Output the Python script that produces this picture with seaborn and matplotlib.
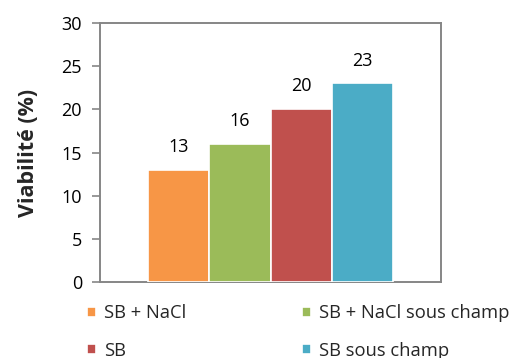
import matplotlib
matplotlib.use("Agg")
import matplotlib.pyplot as plt
import seaborn as sns
import pandas as pd

# Viability per treatment
groupe = ["Traitement"] * 4
conditions = ["SB + NaCl", "SB + NaCl sous champ", "SB", "SB sous champ"]
viabilite = [13, 16, 20, 23]
couleurs = ["#F79646", "#9BBB59", "#C0504D", "#4BACC6"]
yticks = [0, 5, 10, 15, 20, 25, 30]

df = pd.DataFrame({"groupe": groupe, "condition": conditions, "viabilite": viabilite})

sns.set_theme(style="white")
plt.rcParams["font.family"] = ["Open Sans", "DejaVu Sans"]

W, H = 522, 358
fig = plt.figure(figsize=(W / 100, H / 100), dpi=100)
ax = fig.add_axes([100 / W, (H - 282) / H, 341 / W, 259 / H])

sns.barplot(data=df, x="groupe", y="viabilite", hue="condition",
            hue_order=conditions, palette=couleurs, width=0.72,
            saturation=1, edgecolor="white", linewidth=1.2,
            ax=ax, legend=True, zorder=3)

for cont in ax.containers:
    ax.bar_label(cont, fmt="%d", padding=10, fontsize=13, color="black")

ax.set_ylim(0, 30)
ax.set_xlim(-0.5, 0.5)
ax.set_yticks(yticks)
ax.set_xticks([])
ax.set_xlabel("")
ax.set_ylabel("Viabilité (%)", fontsize=15.5, fontweight="bold", labelpad=16)
ax.tick_params(axis="y", left=True, length=6, width=1.2, color="#868686",
               labelsize=13, labelcolor="black", pad=7)
for s in ax.spines.values():
    s.set_color("#868686")
    s.set_linewidth(1.4)
    s.set_zorder(2)

handles, labels = ax.get_legend_handles_labels()
ax.get_legend().remove()
order = [0, 2, 1, 3]
fig.legend([handles[i] for i in order], [labels[i] for i in order],
           ncol=2, loc="upper left", bbox_to_anchor=(81 / W, 1 - 299 / H),
           frameon=False, fontsize=13.2, handlelength=0.5, handleheight=0.5,
           handletextpad=0.45, columnspacing=6.3, labelspacing=1.05,
           borderaxespad=0, borderpad=0.3)

fig.savefig("out.png", dpi=100)
